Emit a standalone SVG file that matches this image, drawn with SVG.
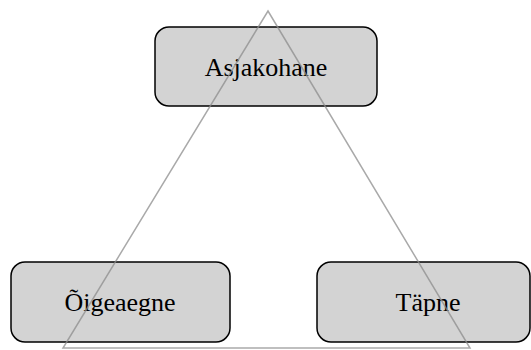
<svg xmlns="http://www.w3.org/2000/svg" width="531" height="350" viewBox="0 0 531 350">
<style>
.box{fill:#d3d3d3;stroke:#000;stroke-width:1.5}
.lbl{font-family:"Liberation Serif","Times New Roman",serif;font-size:26px;fill:#000;text-anchor:middle}
.tri{fill:none;stroke:#8c8c8c;stroke-width:1.5;stroke-opacity:0.75}
</style>
<rect width="531" height="350" fill="#fff"/>
<g id="n1"><rect class="box" x="155" y="27" width="222" height="79" rx="14"/><text class="lbl" x="266" y="76">Asjakohane</text></g>
<g id="n2"><rect class="box" x="11" y="262" width="219" height="80" rx="14"/><text class="lbl" x="120" y="311">Õigeaegne</text></g>
<g id="n3"><rect class="box" x="317" y="262" width="213" height="80" rx="14"/><text class="lbl" x="428" y="311">Täpne</text></g>
<g id="connectors"><polygon class="tri" points="268,11 470,348 63,348"/></g>
</svg>
